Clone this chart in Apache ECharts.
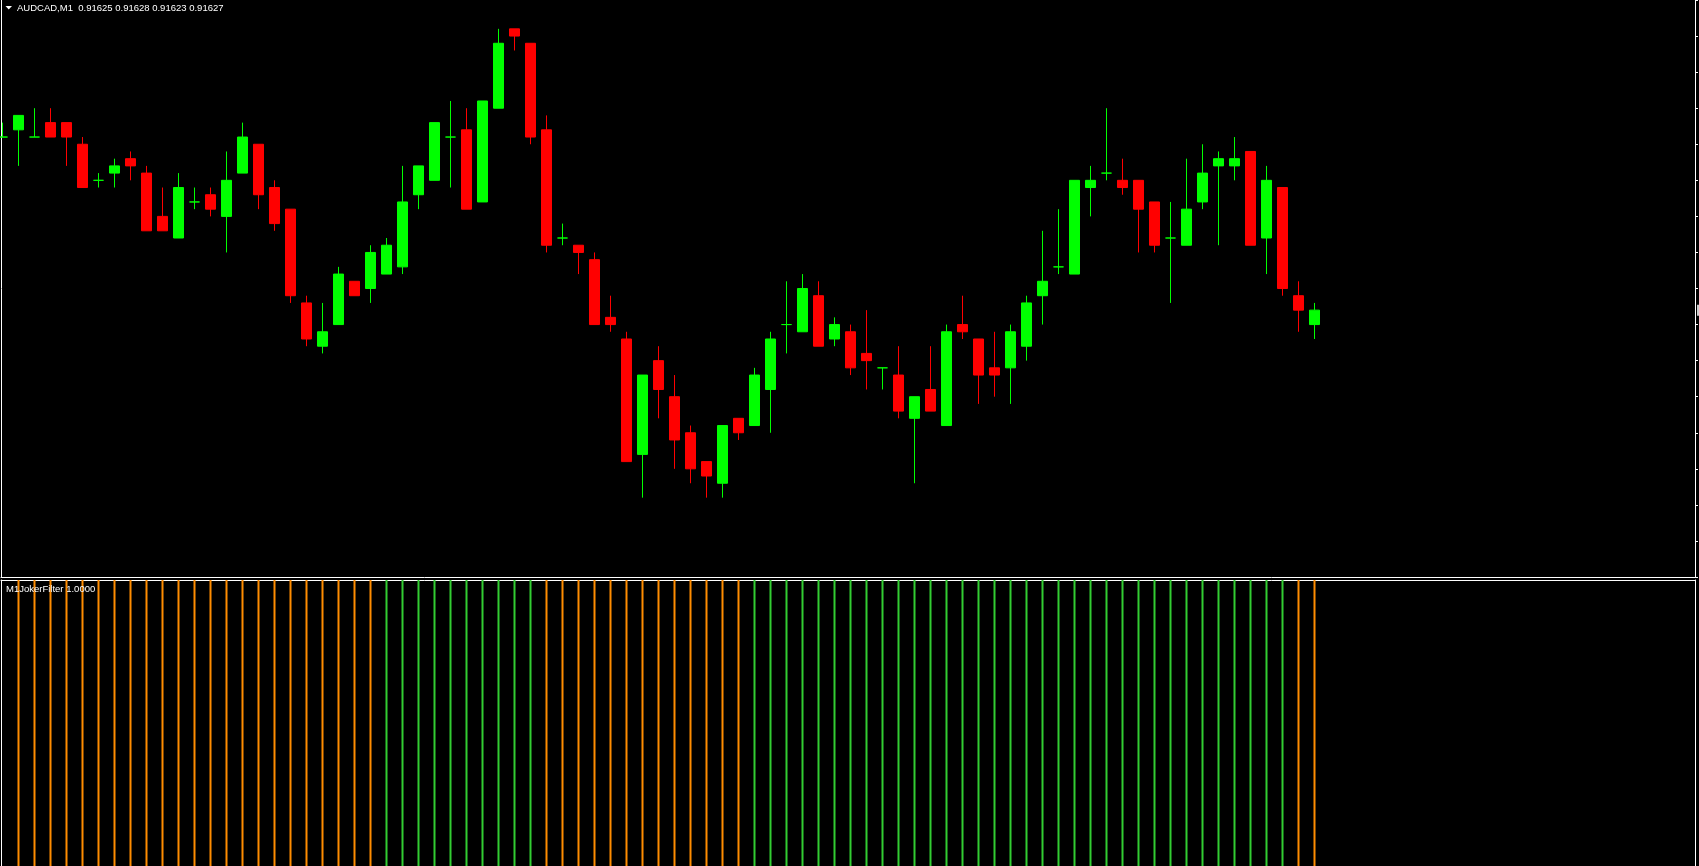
<!DOCTYPE html>
<html>
<head>
<meta charset="utf-8">
<script src="https://cdn.jsdelivr.net/npm/echarts@6/dist/echarts.min.js"></script>
<style>
html,body{margin:0;padding:0;background:#000;}
#c{width:1699px;height:866px;}
</style>
</head>
<body>
<div id="c"></div>
<script>
// ---- data ----
const symbolName = 'AUDCAD';
const timeframe = 'M1';
const indicatorName = 'M1JokerFilter';

const opens = [0.91651,0.91652,0.91651,0.91653,0.91653,0.91650,0.91645,0.91646,0.91648,0.91646,
0.91640,0.91637,0.91642,0.91643,0.91640,0.91646,0.91650,0.91644,0.91641,0.91628,
0.91622,0.91625,0.91631,0.91630,0.91632,0.91633,0.91643,0.91645,0.91651,0.91652,
0.91642,0.91655,0.91666,0.91664,0.91652,0.91637,0.91636,0.91634,0.91626,0.91623,
0.91607,0.91620,0.91615,0.91610,0.91606,0.91603,0.91612,0.91611,0.91616,0.91625,
0.91624,0.91629,0.91623,0.91624,0.91621,0.91619,0.91618,0.91612,0.91616,0.91611,
0.91625,0.91623,0.91619,0.91619,0.91622,0.91629,0.91633,0.91632,0.91644,0.91646,
0.91645,0.91645,0.91642,0.91637,0.91636,0.91642,0.91647,0.91647,0.91649,0.91637,
0.91644,0.91629,0.91625];

const closes = [0.91651,0.91654,0.91651,0.91651,0.91651,0.91644,0.91645,0.91647,0.91647,0.91638,
0.91638,0.91644,0.91642,0.91641,0.91645,0.91651,0.91643,0.91639,0.91629,0.91623,
0.91624,0.91632,0.91629,0.91635,0.91636,0.91642,0.91647,0.91653,0.91651,0.91641,
0.91656,0.91664,0.91665,0.91651,0.91636,0.91637,0.91635,0.91625,0.91625,0.91606,
0.91618,0.91616,0.91609,0.91605,0.91604,0.91611,0.91610,0.91618,0.91623,0.91625,
0.91630,0.91622,0.91625,0.91619,0.91620,0.91619,0.91613,0.91615,0.91613,0.91624,
0.91624,0.91618,0.91618,0.91624,0.91628,0.91631,0.91633,0.91645,0.91645,0.91646,
0.91644,0.91641,0.91636,0.91637,0.91641,0.91646,0.91648,0.91648,0.91636,0.91645,
0.91630,0.91627,0.91627];

const lows = [0.91651,0.91647,0.91651,0.91651,0.91647,0.91644,0.91644,0.91644,0.91645,0.91638,
0.91638,0.91637,0.91641,0.91640,0.91635,0.91646,0.91641,0.91638,0.91628,0.91622,
0.91621,0.91625,0.91629,0.91628,0.91632,0.91632,0.91641,0.91645,0.91644,0.91641,
0.91642,0.91655,0.91663,0.91650,0.91635,0.91636,0.91632,0.91625,0.91624,0.91606,
0.91601,0.91612,0.91605,0.91603,0.91601,0.91601,0.91609,0.91611,0.91610,0.91621,
0.91624,0.91622,0.91622,0.91618,0.91616,0.91616,0.91612,0.91603,0.91613,0.91611,
0.91623,0.91614,0.91615,0.91614,0.91620,0.91625,0.91632,0.91632,0.91640,0.91645,
0.91643,0.91635,0.91635,0.91628,0.91636,0.91641,0.91636,0.91645,0.91636,0.91632,
0.91629,0.91624,0.91623];

const highs = [0.91653,0.91654,0.91655,0.91655,0.91653,0.91651,0.91646,0.91648,0.91649,0.91647,
0.91644,0.91646,0.91644,0.91644,0.91649,0.91653,0.91650,0.91645,0.91641,0.91629,
0.91628,0.91633,0.91631,0.91636,0.91637,0.91647,0.91647,0.91653,0.91656,0.91655,
0.91656,0.91666,0.91666,0.91664,0.91654,0.91639,0.91636,0.91635,0.91629,0.91624,
0.91618,0.91622,0.91618,0.91611,0.91606,0.91611,0.91612,0.91619,0.91624,0.91631,
0.91632,0.91631,0.91626,0.91625,0.91627,0.91619,0.91622,0.91615,0.91622,0.91625,
0.91629,0.91623,0.91624,0.91625,0.91629,0.91638,0.91641,0.91645,0.91647,0.91655,
0.91648,0.91645,0.91642,0.91642,0.91648,0.91650,0.91649,0.91651,0.91649,0.91647,
0.91644,0.91631,0.91628];

// indicator buffer value (null = not drawn) and its colour state (1 = green, 0 = orange)
const filterValues = [null,1,1,1,1,1,1,1,1,1, 1,1,1,1,1,1,1,1,1,1, 1,1,1,1,1,1,1,1,1,1,
1,1,1,1,1,1,1,1,1,1, 1,1,1,1,1,1,1,1,1,1, 1,1,1,1,1,1,1,1,1,1, 1,1,1,1,1,1,1,1,1,1,
1,1,1,1,1,1,1,1,1,1, 1,1,1];
const filterTrend = [0,0,0,0,0,0,0,0,0,0, 0,0,0,0,0,0,0,0,0,0, 0,0,0,0,1,1,1,1,1,1,
1,1,1,1,0,0,0,0,0,0, 0,0,0,0,0,0,0,1,1,1, 1,1,1,1,1,1,1,1,1,1, 1,1,1,1,1,1,1,1,1,1,
1,1,1,1,1,1,1,1,1,1, 1,0,0];

// price scale
const priceMin = 0.91590;
const priceMax = 0.91670;
const priceStep = 0.00005;
// bar-index scale (chart shift leaves empty slots on the right)
const barMin = -0.09375;
const barMax = 105.78125;

// ---- chart ----
const N = opens.length;
const last = N - 1;
const candleData = opens.map((o, i) => [i, o, closes[i], lows[i], highs[i]]);
const filterData = filterValues.map((v, i) => [i, v == null ? '-' : v]);
const fmt = v => v.toFixed(5);

const WHITE = '#ffffff';
const UP = '#00ff00', DOWN = '#ff0000';
const F_GREEN = '#32cd32', F_ORANGE = '#ff8c00';
const txt = {color: '#ffffff', fontFamily: 'Liberation Sans', fontSize: 9.5, fontWeight: 'normal'};
const border = {show: true, onZero: false, lineStyle: {color: WHITE, width: 1}};
const hidden = {axisTick: {show: false}, axisLabel: {show: false}, splitLine: {show: false}};

const chart = echarts.init(document.getElementById('c'), null, {renderer: 'canvas'});
chart.setOption({
  backgroundColor: '#000000',
  animation: false,
  title: [
    {text: symbolName + ',' + timeframe + '  ' + fmt(opens[last]) + ' ' + fmt(highs[last]) + ' ' + fmt(lows[last]) + ' ' + fmt(closes[last]),
     left: 17, top: 3, padding: 0, textStyle: txt},
    {text: indicatorName + ' ' + filterValues[last].toFixed(4),
     left: 6, top: 584, padding: 0, textStyle: txt}
  ],
  graphic: [{type: 'polygon', shape: {points: [[5.5, 6], [12, 6], [8.75, 9.5]]}, style: {fill: WHITE}, silent: true}],
  grid: [
    {left: 1, right: 4, top: 0, height: 577},
    {left: 1, right: 4, top: 580, bottom: 0}
  ],
  xAxis: [
    Object.assign({gridIndex: 0, type: 'value', min: barMin, max: barMax, position: 'bottom', axisLine: border}, hidden),
    Object.assign({gridIndex: 1, type: 'value', min: barMin, max: barMax, position: 'top', axisLine: border}, hidden)
  ],
  yAxis: [
    {gridIndex: 0, type: 'value', position: 'right', min: priceMin, max: priceMax, interval: priceStep,
     axisLine: border, axisTick: {show: true, inside: false, length: 3, lineStyle: {color: WHITE}},
     axisLabel: {show: false}, splitLine: {show: false}},
    Object.assign({gridIndex: 0, type: 'value', position: 'left', min: priceMin, max: priceMax, axisLine: border}, hidden),
    Object.assign({gridIndex: 1, type: 'value', position: 'left', min: 0, max: 1, axisLine: border}, hidden),
    Object.assign({gridIndex: 1, type: 'value', position: 'right', min: 0, max: 1, axisLine: border}, hidden)
  ],
  series: [
    {
      type: 'candlestick', xAxisIndex: 0, yAxisIndex: 0,
      data: candleData, barWidth: 10,
      itemStyle: {color: UP, color0: DOWN, borderColor: UP, borderColor0: DOWN, borderColorDoji: UP, borderWidth: 1}
    },
    {
      // current-price box on the price scale (mostly beyond the picture edge)
      type: 'scatter', xAxisIndex: 0, yAxisIndex: 0, clip: false, silent: true,
      data: [[barMax, closes[last]]],
      symbol: 'rect', symbolSize: [24, 11], symbolOffset: [14, 0],
      itemStyle: {color: WHITE}
    },
    {
      type: 'bar', xAxisIndex: 1, yAxisIndex: 2,
      data: filterData, barWidth: 2,
      itemStyle: {color: p => filterTrend[p.dataIndex] ? F_GREEN : F_ORANGE}
    }
  ]
});
</script>
</body>
</html>
